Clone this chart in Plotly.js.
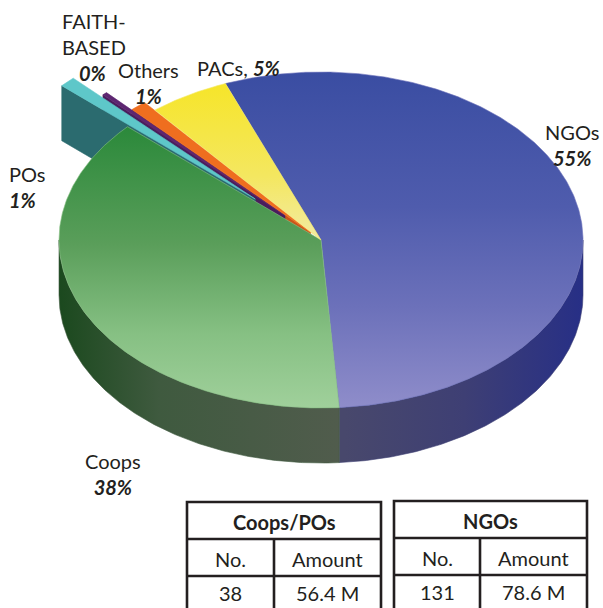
<!DOCTYPE html>
<html>
<head>
<meta charset="utf-8">
<script src="https://cdn.plot.ly/plotly-3.0.1.min.js"></script>
<style>html,body{margin:0;padding:0;background:#fff;}</style>
</head>
<body>
<div id="chart" style="width:603px;height:608px"></div>
<script>
// ---- data ----
const categories = ['NGOs', 'Coops', 'POs', 'FAITH-BASED', 'Others', 'PACs'];
const shares = [55, 38, 1, 0.3, 1, 5];
const tableTitles = ['Coops/POs', 'NGOs'];
const tableHeaders = ['No.', 'Amount'];
const tableCounts = ['38', '131'];
const tableAmounts = ['56.4 M', '78.6 M'];

// ---- styling ----
const pulls = [0, 0, 0.35, 0.2, 0.06, 0];
const topFills = [
  {type: 'vertical', start: 72, stop: 408, colorscale: [[0, '#3a4da2'], [0.4, '#4f5cad'], [0.7, '#6c71ba'], [1, '#8f8dca']]},
  {type: 'vertical', start: 110, stop: 408, colorscale: [[0, '#248636'], [0.45, '#5a9e5a'], [0.75, '#86c083'], [1, '#a0d09b']]},
  '#5ec7c9',
  '#5d2671',
  '#ef6e1f',
  {type: 'vertical', start: 85, stop: 237, colorscale: [[0, '#f6e52a'], [0.6, '#f4e760'], [1, '#f2eba0']]}
];
const sideFills = [
  {type: 'horizontal', start: 345, stop: 583, colorscale: [[0, '#48486c'], [0.5, '#3e3f74'], [1, '#272f86']]},
  {type: 'horizontal', start: 59, stop: 345, colorscale: [[0, '#1b491e'], [0.35, '#3f5a3f'], [1, '#515c4d']]},
  '#2b6b6f', '#4a1d5c', '#c9561a', '#c9b820'
];

// pie geometry (axes are set up so that one unit = one pixel)
const CX = 321, CY = 240, RX = 262, RY = 168, DEPTH = 55, START = -21.4;

const total = shares.reduce((s, v) => s + v, 0);
const angles = [];
let acc = START;
shares.forEach(v => {
  const span = v / total * 360;
  angles.push([acc, acc + span]);
  acc += span;
});

function pt(theta, r, off) {
  const t = theta * Math.PI / 180;
  return [CX + off[0] + RX * r * Math.sin(t), CY + off[1] - RY * r * Math.cos(t)];
}
function arc(t0, t1, off) {
  const n = Math.max(2, Math.ceil(Math.abs(t1 - t0) / 0.5) + 1);
  const pts = [];
  for (let i = 0; i < n; i++) pts.push(pt(t0 + (t1 - t0) * i / (n - 1), 1, off));
  return pts;
}
function poly(pts, fill, lineColor) {
  const tr = {
    type: 'scatter', mode: 'lines', fill: 'toself', hoverinfo: 'skip', showlegend: false,
    x: pts.map(p => p[0]).concat([pts[0][0]]),
    y: pts.map(p => p[1]).concat([pts[0][1]]),
    line: {width: 0.6, color: lineColor}
  };
  if (typeof fill === 'string') tr.fillcolor = fill; else tr.fillgradient = fill;
  return tr;
}
function edgeColor(f) { return typeof f === 'string' ? f : f.colorscale[Math.floor(f.colorscale.length / 2)][1]; }

const offsets = angles.map((a, i) => {
  const m = (a[0] + a[1]) / 2 * Math.PI / 180;
  return [RX * pulls[i] * Math.sin(m), -RY * pulls[i] * Math.cos(m)];
});

const sideTraces = [], radialTraces = [], topTraces = [];
angles.forEach((a, i) => {
  const off = offsets[i];
  // curved outer wall, only the front half faces the viewer
  const s = Math.max(a[0], 90), e = Math.min(a[1], 270);
  if (e > s) {
    const upper = arc(s, e, off);
    const lower = upper.map(p => [p[0], p[1] + DEPTH]).reverse();
    sideTraces.push(poly(upper.concat(lower), sideFills[i], edgeColor(sideFills[i])));
  }
  // cut face of slices pulled out of the pie
  if (pulls[i] > 0) {
    const apex = [CX + off[0], CY + off[1]];
    const outer = pt(a[0], 1, off);
    radialTraces.push(poly([apex, outer, [outer[0], outer[1] + DEPTH], [apex[0], apex[1] + DEPTH]],
      sideFills[i], edgeColor(sideFills[i])));
  }
  const top = [[CX + off[0], CY + off[1]]].concat(arc(a[0], a[1], off));
  topTraces.push(poly(top, topFills[i], edgeColor(topFills[i])));
});
radialTraces.reverse();

// ---- labels ----
const pct = shares.map(v => Math.round(v / total * 100) + '%');
const lab = (html, x, y, xanchor, align) => ({
  text: html, x: x, y: y, xref: 'x', yref: 'y', showarrow: false,
  xanchor: xanchor || 'center', yanchor: 'middle', align: align || 'center',
  font: {family: 'Lato, "Open Sans", sans-serif', size: 20, color: '#231f20'}
});
const bi = t => '<b><i>' + t + '</i></b>';
const annotations = [
  lab(categories[0] + '<br>' + bi(pct[0]), 572, 145),
  lab(categories[1] + '<br>' + bi(pct[1]), 113, 474),
  lab(categories[2] + '<br>' + bi(pct[2]), 7, 187, 'left', 'left'),
  lab(categories[3].replace('-', '-<br>'), 60, 34, 'left', 'left'),
  lab(bi(pct[3]), 92, 73),
  lab(categories[4] + '<br>' + bi(pct[4]), 148, 83),
  lab(categories[5] + ', ' + bi(pct[5]), 195, 68, 'left', 'left')
];

// ---- summary tables ----
const shapes = [];
const tables = [
  {x0: 187, x1: 381, xm: 274, y0: 502, y1: 539, y2: 576},
  {x0: 394, x1: 587, xm: 480, y0: 501, y1: 538, y2: 575}
];
const border = {color: '#231f20', width: 2.6};
const tfont = {family: 'Lato, "Open Sans", sans-serif', size: 20, color: '#231f20'};
tables.forEach((t, i) => {
  shapes.push({type: 'rect', xref: 'x', yref: 'y', x0: t.x0, x1: t.x1, y0: t.y0, y1: 640, line: border});
  shapes.push({type: 'line', xref: 'x', yref: 'y', x0: t.x0, x1: t.x1, y0: t.y1, y1: t.y1, line: border});
  shapes.push({type: 'line', xref: 'x', yref: 'y', x0: t.x0, x1: t.x1, y0: t.y2, y1: t.y2, line: border});
  shapes.push({type: 'line', xref: 'x', yref: 'y', x0: t.xm, x1: t.xm, y0: t.y1, y1: 640, line: border});
  const c1 = (t.x0 + t.xm) / 2, c2 = (t.xm + t.x1) / 2;
  const cell = (txt, x, y) => ({text: txt, x: x, y: y, xref: 'x', yref: 'y', showarrow: false,
    xanchor: 'center', yanchor: 'middle', font: tfont});
  annotations.push(cell('<b>' + tableTitles[i] + '</b>', (t.x0 + t.x1) / 2, (t.y0 + t.y1) / 2 + 1));
  annotations.push(cell(tableHeaders[0], c1, (t.y1 + t.y2) / 2 + 1));
  annotations.push(cell(tableHeaders[1], c2, (t.y1 + t.y2) / 2 + 1));
  annotations.push(cell(tableCounts[i], c1, t.y2 + 17));
  annotations.push(cell(tableAmounts[i], c2, t.y2 + 17));
});

const layout = {
  width: 603, height: 608,
  margin: {l: 0, r: 0, t: 0, b: 0},
  paper_bgcolor: '#ffffff', plot_bgcolor: '#ffffff',
  showlegend: false,
  xaxis: {range: [0, 603], visible: false, fixedrange: true},
  yaxis: {range: [608, 0], visible: false, fixedrange: true},
  annotations: annotations,
  shapes: shapes
};

Plotly.newPlot('chart', sideTraces.concat(radialTraces, topTraces), layout, {displayModeBar: false, staticPlot: true});
</script>
</body>
</html>
